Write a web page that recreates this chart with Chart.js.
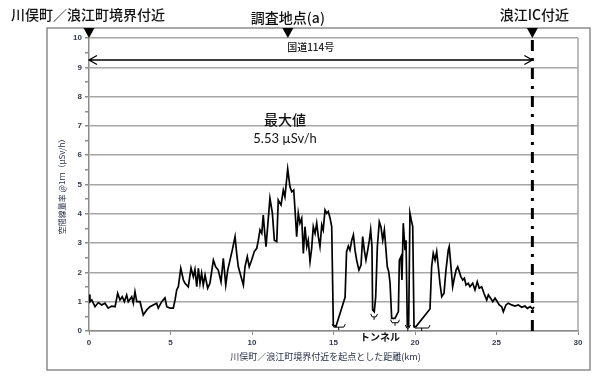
<!DOCTYPE html>
<html>
<head>
<meta charset="utf-8">
<script src="https://cdn.jsdelivr.net/npm/chart.js@4/dist/chart.umd.min.js"></script>
<style>
html,body{margin:0;padding:0;background:#fff;}
canvas{display:block;}
</style>
</head>
<body>
<canvas id="c" width="600" height="382"></canvas>
<script>
// ---- data ----
const distanceKm = [
0.00,0.06,0.17,0.37,0.57,0.78,0.98,1.18,1.39,1.60,1.76,1.90,2.04,2.17,2.31,2.41,2.62,2.72,2.82,2.93,
3.13,3.33,3.54,3.74,3.94,4.15,4.25,4.46,4.66,4.77,4.97,5.17,5.28,5.38,5.48,5.63,5.79,5.89,6.09,6.26,
6.40,6.50,6.61,6.71,6.81,6.91,7.01,7.12,7.28,7.42,7.63,7.77,7.93,8.10,8.24,8.39,8.51,8.65,8.79,8.96,
9.06,9.16,9.33,9.47,9.57,9.71,9.83,9.98,10.14,10.29,10.39,10.49,10.60,10.69,10.80,10.86,10.96,11.10,11.25,11.37,
11.52,11.61,11.78,11.92,12.02,12.19,12.33,12.44,12.56,12.64,12.74,12.84,12.94,13.05,13.15,13.25,13.36,13.45,13.56,13.66,
13.76,13.87,13.97,14.07,14.17,14.28,14.37,14.48,14.58,14.68,14.79,14.89,14.99,15.15,15.71,15.80,15.91,16.01,16.12,16.22,
16.32,16.42,16.56,16.69,16.79,16.89,16.99,17.10,17.20,17.28,17.36,17.40,17.50,17.59,17.69,17.81,17.91,18.02,18.12,18.22,
18.30,18.39,18.47,18.57,18.77,18.98,19.04,19.14,19.20,19.28,19.39,19.45,19.53,19.61,19.69,19.77,19.86,19.94,20.06,20.92,
21.02,21.12,21.23,21.33,21.43,21.53,21.64,21.78,21.90,22.04,22.10,22.19,22.31,22.41,22.52,22.62,22.72,22.82,22.93,23.03,
23.13,23.27,23.37,23.54,23.68,23.82,23.94,24.09,24.23,24.40,24.50,24.64,24.77,24.91,25.05,25.17,25.32,25.42,25.58,25.72,
25.93,26.13,26.34,26.54,26.75,26.89,27.06,27.22,27.30
];
const doseRate = [
1.25,1.00,1.06,0.83,0.97,0.89,0.95,0.78,0.85,0.83,1.29,1.06,1.17,1.00,1.23,1.00,1.17,0.95,1.34,1.00,
1.00,0.55,0.72,0.83,0.89,0.95,0.78,1.00,1.13,0.83,0.78,0.78,1.06,1.40,1.51,2.14,1.74,1.63,1.51,2.15,
1.85,2.10,1.51,2.14,1.63,1.97,1.57,1.91,1.46,1.63,2.42,2.19,2.08,1.68,2.48,1.57,2.08,2.42,2.76,3.22,
2.65,2.19,1.85,1.57,2.19,2.54,2.19,2.42,2.71,2.82,3.10,3.45,3.33,3.96,3.22,2.88,3.56,4.53,4.02,3.10,
3.05,4.47,4.30,4.81,4.58,5.53,4.92,4.75,4.81,4.13,3.22,4.02,3.68,3.85,2.65,3.56,2.88,3.10,2.37,2.82,
3.56,3.33,3.68,3.22,2.88,3.62,3.45,4.13,4.02,4.08,3.85,3.56,0.20,0.15,1.15,2.70,2.90,2.76,3.10,3.28,
2.76,2.42,2.08,2.25,3.22,2.76,2.42,2.76,3.10,3.45,2.88,0.72,0.66,1.17,2.88,3.73,3.56,3.10,3.45,2.76,
2.19,2.02,1.63,0.43,0.43,0.66,2.42,2.54,1.74,3.68,2.76,3.10,0.15,0.15,4.02,3.79,3.56,0.15,0.15,0.75,
2.19,2.65,2.42,2.71,2.19,1.63,1.17,1.29,2.08,2.76,2.88,2.31,1.51,1.80,2.08,2.19,2.02,1.85,1.74,1.80,
1.57,1.63,1.51,1.63,1.40,1.68,1.46,1.51,1.29,1.06,1.23,1.12,1.00,1.12,1.00,0.89,0.83,0.66,0.89,0.95,
0.89,0.85,0.89,0.81,0.85,0.77,0.83,0.75,0.82
];
const markerKm = [0, 12.2, 27.2];
const markerLabels = ['川俣町／浪江町境界付近', '調査地点(a)', '浪江IC付近'];
const icKm = 27.2;
const routeArrow = [0, 27.2, 9.25];
const routeLabel = '国道114号';
const maxKm = 12.03;
const maxLabel = '最大値';
const maxValueLabel = '5.53 µSv/h';
const tunnelStart = [14.92, 17.28, 18.50, 19.40, 19.90];
const tunnelEnd   = [15.72, 17.70, 19.05, 19.72, 20.92];
const tunnelLevel = [0.20, 0.55, 0.35, 0.17, 0.17];
const tunnelLabel = 'トンネル';
const xTitle = '川俣町／浪江町境界付近を起点とした距離(km)';
const yTitle = '空間線量率 @1ｍ（μSv/h）';

const points = distanceKm.map((x, i) => ({x, y: doseRate[i]}));
const JP = '"Noto Sans CJK JP", "Noto Sans", sans-serif';

const decor = {
  id: 'decor',
  beforeDraw(chart) {
    const c = chart.ctx;
    c.save();
    c.fillStyle = '#fff';
    c.fillRect(0, 0, chart.width, chart.height);
    c.strokeStyle = '#8c8c8c';
    c.lineWidth = 1.5;
    c.strokeRect(47, 28, 543, 342);
    c.restore();
  },
  afterDatasetsDraw(chart) {
    const c = chart.ctx, xs = chart.scales.x, ys = chart.scales.y, a = chart.chartArea;
    c.save();
    // plot right border
    c.strokeStyle = '#a6a6a6'; c.lineWidth = 1.5;
    c.beginPath(); c.moveTo(a.right, a.top); c.lineTo(a.right, a.bottom); c.stroke();
    // dash-dot IC line
    const ix = xs.getPixelForValue(icKm);
    c.strokeStyle = '#000'; c.lineWidth = 3; c.setLineDash([11, 7, 3, 7]);
    c.beginPath(); c.moveTo(ix, a.top + 2); c.lineTo(ix, a.bottom); c.stroke();
    c.setLineDash([]);
    // triangles
    c.fillStyle = '#000';
    markerKm.forEach(k => {
      const px = xs.getPixelForValue(k);
      c.beginPath(); c.moveTo(px - 5.5, 28); c.lineTo(px + 5.5, 28); c.lineTo(px, a.top); c.closePath(); c.fill();
    });
    // top labels
    c.fillStyle = '#111';
    c.font = '500 14px ' + JP;
    c.textBaseline = 'middle';
    c.textAlign = 'left'; c.fillText(markerLabels[0], 11, 15);
    c.textAlign = 'center'; c.fillText(markerLabels[1], xs.getPixelForValue(markerKm[1]) + 0, 18);
    c.fillText(markerLabels[2], xs.getPixelForValue(markerKm[2]) + 2, 15);
    // route arrow
    const ay = ys.getPixelForValue(routeArrow[2]);
    const ax0 = xs.getPixelForValue(routeArrow[0]), ax1 = xs.getPixelForValue(routeArrow[1]);
    c.strokeStyle = '#000'; c.lineWidth = 1.3;
    c.beginPath(); c.moveTo(ax0, ay); c.lineTo(ax1, ay);
    c.moveTo(ax0 + 8, ay - 4.5); c.lineTo(ax0, ay); c.lineTo(ax0 + 8, ay + 4.5);
    c.moveTo(ax1 - 8, ay - 4.5); c.lineTo(ax1, ay); c.lineTo(ax1 - 8, ay + 4.5);
    c.stroke();
    c.font = '500 10px ' + JP; c.fillStyle = '#222';
    c.fillText(routeLabel, (ax0 + ax1) / 2, ys.getPixelForValue(9.68));
    // max value
    const mx = xs.getPixelForValue(maxKm);
    c.fillStyle = '#111';
    c.font = '500 14px ' + JP;
    c.fillText(maxLabel, mx, ys.getPixelForValue(7.2));
    c.font = '13px Lato, "Liberation Sans", sans-serif';
    c.fillText(maxValueLabel, mx, ys.getPixelForValue(6.55));
    // tunnels
    c.lineWidth = 1; c.strokeStyle = '#000';
    tunnelStart.forEach((s, i) => {
      const x0 = xs.getPixelForValue(s), x1 = xs.getPixelForValue(tunnelEnd[i]);
      const y = ys.getPixelForValue(tunnelLevel[i]) + 2;
      const m = (x0 + x1) / 2;
      c.beginPath();
      c.moveTo(x0, y - 3); c.lineTo(x0 + 1.5, y); c.lineTo(x1 - 1.5, y); c.lineTo(x1, y - 3);
      c.moveTo(m, y); c.lineTo(m, y + 3);
      c.stroke();
    });
    c.font = 'bold 10px ' + JP; c.fillStyle = '#111';
    c.fillText(tunnelLabel, 380, 337);
    // y title
    c.save();
    c.translate(62, (a.top + a.bottom) / 2);
    c.rotate(-Math.PI / 2);
    c.font = '8px ' + JP; c.fillStyle = '#1f2a44';
    c.fillText(yTitle, 0, 0);
    c.restore();
    // x title
    c.font = '9px ' + JP; c.fillStyle = '#1f2a44';
    c.fillText(xTitle, (a.left + a.right) / 2 - 8, 357);
    c.restore();
  }
};

new Chart(document.getElementById('c'), {
  type: 'line',
  data: { datasets: [{ data: points, borderColor: '#000', borderWidth: 1.7, pointRadius: 0, tension: 0, fill: false }] },
  options: {
    responsive: false, animation: false, events: [],
    layout: { padding: { top: 38, right: 22, bottom: 0, left: 0 } },
    plugins: { legend: { display: false }, tooltip: { enabled: false } },
    scales: {
      x: {
        type: 'linear', min: 0, max: 30,
        ticks: { stepSize: 5, font: { size: 8, weight: 'bold', family: 'Liberation Sans' }, color: '#333c55', padding: 3, maxRotation: 0 },
        grid: { drawOnChartArea: false, color: '#8c8c8c', tickLength: 4, lineWidth: 1 },
        border: { color: '#8c8c8c', width: 1.5 },
        afterFit(s) { s.height = 51; }
      },
      y: {
        min: 0, max: 10,
        ticks: { stepSize: 0.5, autoSkip: false, font: { size: 8, weight: 'bold', family: 'Liberation Sans' }, color: '#333c55', padding: 3,
          callback: v => Number.isInteger(v) ? v : '' },
        grid: { color: ctx => Number.isInteger(ctx.tick.value) ? '#a6a6a6' : 'rgba(0,0,0,0)',
          tickColor: '#8c8c8c', lineWidth: 1.5, tickLength: 4 },
        border: { color: '#8c8c8c', width: 1.5 },
        afterFit(s) { s.width = 89; }
      }
    }
  },
  plugins: [decor]
});
</script>
</body>
</html>
